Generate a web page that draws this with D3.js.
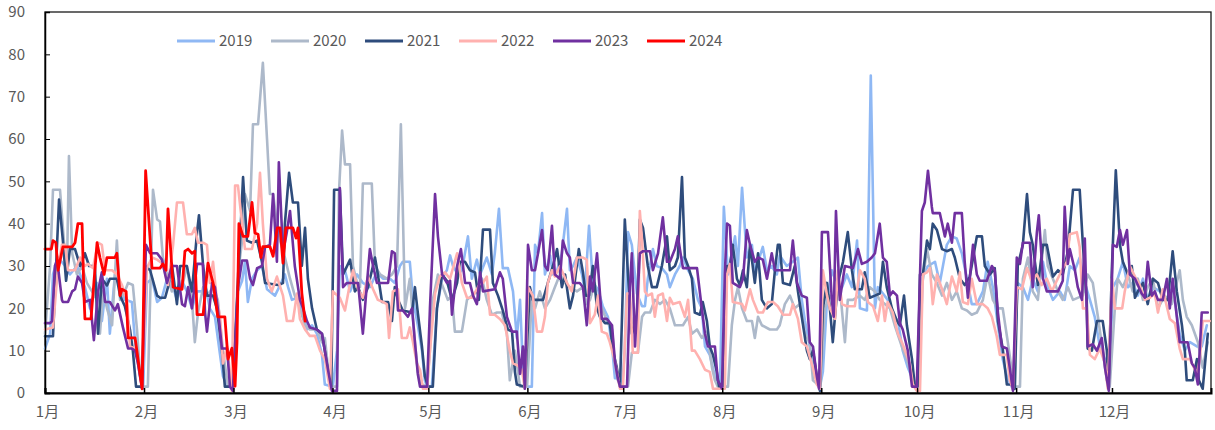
<!DOCTYPE html>
<html><head><meta charset="utf-8">
<script src="https://cdn.jsdelivr.net/npm/d3@7"></script>
<style>
html,body{margin:0;padding:0;background:#fff;}
svg{display:block;font-family:"Noto Sans CJK SC","Noto Sans",sans-serif;}
</style></head>
<body>
<svg id="chart" width="1215" height="430"></svg>
<script>
// ---- data (x = day of year, 0 = 1 Jan) ----
const monthLabels = ["1月","2月","3月","4月","5月","6月","7月","8月","9月","10月","11月","12月"];
const monthStartDays = [0,31,59,90,120,151,181,212,243,273,304,334];
const yTicks = [0,10,20,30,40,50,60,70,80,90];
const years = ["2019","2020","2021","2022","2023","2024"];

const s2019 = [[0,10.5],[1.6,14],[2.5,28],[4.1,32],[6.3,30],[7.8,28],[10,30],[12.5,25],[14.1,20],[16.3,26],[17.8,17],[19.4,27],[20.3,14],[21.9,28],[23.5,25],[25,22],[27.2,21.5],[28.2,12],[29.7,4],[30.7,1],[31.9,26],[33.5,27],[35.1,21.5],[36.6,22.5],[38.2,27],[39.7,26],[41.3,22],[42.9,26.5],[44.4,24],[46,20],[47.6,24],[49.5,24],[50.1,25.5],[51.6,20],[53.2,18],[54.8,9],[55.7,4],[57,1.5],[58.8,1.5],[60.4,24],[61.7,26.5],[62.6,31],[63.5,21.5],[64.8,27],[66.4,29],[67.9,30],[69.5,24.5],[72,23],[73.6,25.5],[75.1,28],[76.1,25],[77.3,22],[78.9,22.5],[80.4,20],[82,15],[83.6,16],[85.1,14],[86.7,9],[87.6,2],[90.1,1.5],[91.4,10],[92.3,30],[93.9,29],[95.5,24],[97.7,28],[99.5,26],[101.7,25],[103.9,28.5],[105.8,27],[108,27],[109.5,26],[111.1,30],[112,31],[114.2,31],[115.2,22],[116.7,16],[118,10],[118.9,3],[119.6,1.5],[121.1,1.5],[122.7,20],[124.3,27],[125.8,29],[126.8,32.5],[127.7,30],[129.3,28],[130.5,29],[132.4,37],[133.6,27],[135.2,31.5],[136.2,28],[138.3,32],[139.9,28],[140.8,33],[142.1,43.5],[143.3,29.5],[144.9,29.5],[146.5,24],[147.7,13],[148.7,22],[149.6,6],[150.9,1.5],[152.4,1.5],[153.4,35],[154.3,33],[155.6,42.5],[156.5,28],[158.1,32.5],[159,28],[160.3,29],[161.8,33],[163.4,43.5],[164.3,29],[165.3,30],[166.5,32],[168.1,28],[169,24],[170.3,39.5],[171.5,26],[173.1,24.5],[174.6,20.5],[176.2,18],[177.5,11],[178.4,3.5],[179.3,3.5],[180.6,1.5],[181.5,10],[182.5,38],[183.7,35],[185.3,23.5],[186.9,20.5],[187.8,20.5],[188.7,27],[190.3,34],[191.5,30],[193.1,29.5],[194.7,28],[195.6,25],[197.2,28],[198.7,30],[199.7,32],[201.3,29],[202.8,27],[204.4,22],[205.6,20],[206.6,11],[208.1,9],[209.7,4],[211.3,1.5],[212.5,44],[213.8,28],[215,33],[216,37],[216.9,30],[218.2,48.5],[219.7,32],[221.3,35],[222.2,28],[223.2,31],[224.7,34.5],[226,29],[227.5,30],[229.1,28],[230,32.5],[232.2,30],[234.1,31],[235.7,32],[236.9,22],[237.9,17],[239.4,11],[240.4,7],[241.6,3],[242.6,1.5],[243.5,5],[244.8,22],[246.3,29],[247.3,27],[249.5,25],[251,28],[252.6,25],[254.2,36],[255.1,20],[257.3,19.5],[258.5,75],[259.8,20],[260.7,25],[262.3,23.5],[263.8,22],[265.4,18.5],[267,17],[268.5,10],[270.1,6],[271.7,3],[272.9,1.5],[273.9,10],[274.8,28],[276.4,30],[278.6,31],[280.1,26],[282.3,35],[283.9,37],[285.4,36.5],[287,33],[288.6,27],[290.1,21],[291.7,21],[293.6,24],[295.1,31],[296.7,25],[298.3,16],[299.8,8],[301.4,3],[303,1],[304.5,26],[306.1,25],[307.7,22],[309.2,27],[310.8,24],[312.4,31],[313.9,25],[315.5,22],[317.7,24],[319.2,22],[320.8,30],[322.4,29],[323.9,32],[325.5,26],[327.1,22],[328.6,18],[330.2,11],[331.8,8],[333,1],[334.3,25],[335.8,27],[337.4,31],[339,25],[340.5,26],[342.1,23],[343.7,27],[345.2,22],[346.8,25],[349,24],[351.2,22],[353,25],[355.2,14],[356.8,10],[358.4,12],[360.6,11],[362.1,11],[363.7,16]];

const s2020 = [[0,14],[1.6,30],[2.5,48],[4.7,48],[5.3,42],[6.3,32],[6.9,30],[7.5,56],[8.5,33],[10,28],[11.6,30],[13.1,26],[14.7,24],[16.3,22],[17.2,14],[18.2,24],[19.4,20],[21,16],[22.5,36],[23.5,22],[25,24],[26,26],[27.5,25.5],[28.8,15],[29.7,5],[30.7,1.5],[32.2,1.5],[33.8,48],[35.1,41],[36,40.5],[36.9,32],[38.2,28],[39.7,24],[41.3,25],[42.9,25],[44.4,30],[46,22],[46.9,12],[47.9,19],[49.5,25],[50.7,23],[52.6,25],[54.1,22],[55.7,10],[57.3,1.5],[58.8,1.5],[60.4,28],[61.7,36],[62.6,47],[64.2,43],[65.1,63.5],[66.7,63.5],[68.2,78],[69.5,60],[70.4,47],[71.4,47],[72.6,40],[73.6,36],[75.1,32],[76.7,27],[78.2,23],[79.8,20],[81.4,16],[82.9,15],[85.1,15],[86.7,12],[87.6,13],[88.6,6],[89.8,1.5],[91.4,1.5],[92,47],[93,62],[93.9,54],[95.5,54],[96.4,30],[97.7,26],[98.6,25],[99.5,49.5],[102.3,49.5],[103.3,30],[104.9,28],[107,27],[108.6,28],[110.2,30],[111.4,63.5],[112.7,20],[114.2,27],[115.8,12],[116.7,5],[118,2],[119.6,1.5],[120.5,10],[121.4,22],[123,28],[124.6,25],[126.1,22],[127.4,23],[128.3,14.5],[130.5,14.5],[132.1,22],[133.6,23],[135.2,24],[136.8,27],[138.3,22],[139.9,18.5],[141.5,19],[143,19],[144.6,14],[145.5,3],[147.1,10],[148.7,1.5],[150.9,1.5],[152.4,22],[153.4,20],[154.9,24],[156.5,20],[158.1,22],[159.6,25],[161.2,28],[162.8,26],[164.3,25],[166.5,24],[168.4,25],[169.6,21],[170.6,22],[172.1,26],[173.1,20],[174.3,20],[175.9,17],[177.5,15],[178.4,7],[179.3,3],[180.6,1.5],[182.5,1.5],[183.7,9.5],[185.6,9.5],[186.9,18],[187.8,19],[189.4,19],[190.9,22],[192.5,21],[194.1,22],[195.6,20],[197.2,16],[199.7,16],[201.3,18],[202.5,14],[204.1,15],[205.6,13],[207.2,14.5],[208.8,6],[209.7,3],[210.6,1.5],[213.8,1.5],[215,16],[216,22],[216.9,25],[218.2,20],[219.7,17],[221.3,17],[222.2,13],[223.2,18],[224.4,16],[226.9,15],[229.1,15],[230,16],[231.6,21],[233.2,23],[234.7,20],[236.3,21],[237.9,14],[239.4,12],[240.4,3],[242.6,1.5],[244.1,20],[245.7,23],[247.3,21],[248.8,25],[250.4,12],[251.3,22],[252.9,22],[255.1,23],[256.6,22],[258.2,25],[259.8,24],[261.3,22],[262.9,21],[264.5,20],[266,16],[268.2,11],[269.8,8],[271.4,4],[272.9,1.5],[274.5,25],[276.1,34],[277.6,28],[279.2,26],[280.8,23],[282.3,26],[283.9,22],[285.4,24],[287,20],[288.6,19.5],[290.1,18.5],[291.7,19],[293.6,22],[295.1,28],[296.7,22],[298.3,20],[299.8,20],[301.4,12],[302.7,5],[303.6,1.5],[305.2,1.5],[306.1,27],[307.7,32],[309.2,24],[310.8,22],[313,38.5],[313.9,30],[315.5,27],[317.1,24],[318.6,22],[320.2,25],[321.8,22],[324.9,23],[326.4,28],[328,26],[329.6,18],[331.1,10],[332.4,3],[333.3,1.5],[334.9,20],[335.8,27],[337.4,25],[339,28],[340.5,24],[342.1,27],[343.7,22],[345.2,25],[346.8,27],[348.4,20],[350.5,23],[352.7,21],[355.2,29],[356.2,22],[357.4,18],[359,16],[360.9,12],[362.4,6],[364,12]];

const s2021 = [[0,13.4],[2.5,13.4],[4.4,45.7],[5.6,36],[6.6,26.5],[7.8,34],[9.4,34],[11,30],[12.5,33],[13.8,30],[15.6,30],[16.6,14],[17.8,27],[19.4,25.4],[20.3,27],[22.5,27],[23.5,23],[25,20.5],[26.6,15],[27.5,10],[28.5,1.5],[30.4,1.5],[31.3,30],[32.9,29],[35.1,23],[36,22.5],[37.6,22.5],[38.5,25],[39.7,30.5],[41.3,21],[42.3,30],[44.4,30],[46,24],[47.6,38],[48.2,42],[49.5,30],[50.7,23],[52.6,23],[53.8,20],[55.4,10],[56.3,1.5],[58.8,1.5],[61,35],[62,51],[63.2,36],[64.8,35.5],[66.4,36],[67.9,31],[68.9,26],[72.9,25.5],[74.5,26],[75.1,40],[76.4,52],[77.6,45],[79.2,45],[80.4,30],[81.4,39],[82.3,27],[83.6,20],[85.1,15],[86.7,14],[87.6,10],[88.6,5],[89.6,1.5],[90.5,48],[92.3,48],[93.3,28],[95.5,31.5],[97,24],[98,25],[99.5,22],[101.1,25],[103.3,32],[104.2,28],[105.5,21.5],[107.4,21.5],[108.6,17],[109.5,25],[110.5,22],[112,19.5],[114.9,19],[115.8,25],[116.7,19],[118,11],[118.9,4],[119.9,1.5],[121.4,1.5],[122.7,20],[124.3,28],[125.8,26.5],[127.4,22],[129,26],[129.9,31],[131.5,31],[133,29],[134.6,28.5],[135.8,22],[137.1,38.6],[139.3,38.6],[140.2,26],[141.8,23],[143.3,19.5],[144.9,15],[146.2,14.5],[147.1,5],[147.7,2],[150.2,1.5],[151.8,25],[152.7,22],[155.9,22],[157.4,26],[159,30],[160.3,34],[161.8,25],[162.8,28],[164.3,20],[165.3,23],[167.1,34],[168.4,28.5],[169.3,23],[170.3,23],[171.5,30],[172.8,20],[173.7,18],[175.3,16.5],[176.8,16.5],[177.8,10],[179,6],[180,1.5],[181.5,41],[182.5,28],[183.7,14],[185.3,17.5],[186.2,41],[187.2,39],[188.7,30],[190,25],[191.5,25],[193.1,30],[194.7,37],[195.6,29],[197.2,30],[198.1,32],[199.4,51],[200.3,32],[201.3,30],[202.5,27],[203.4,19],[205,18.5],[205.9,21.5],[207.2,17],[208.1,11],[209.1,9],[210.3,5],[211,1.5],[212.2,1.5],[213.5,30],[214.4,30],[215.3,35],[216.6,27],[217.5,25.5],[218.5,29],[219.7,25],[220.7,35],[222.2,26],[223.2,33],[224.4,22],[226,20],[227.5,21],[228.5,29],[229.4,35],[230,35],[231,26],[233.2,25.5],[234.7,30],[235.7,24],[236.9,18],[238.5,10],[239.4,8],[240.4,10],[241.6,4],[242.6,0.5],[243.5,20],[244.8,26],[245.7,20],[246.6,12],[248.2,26],[249.8,31],[251.3,38],[252.6,29],[253.5,24.5],[255.7,24.5],[256.6,28.5],[258.2,22.5],[259.8,23],[261.3,23.5],[262.3,31],[263.5,25],[265.1,20],[266.7,17],[267.6,16],[268.9,23],[269.8,16],[271.4,8],[272.3,1.5],[273.2,1.5],[273.9,28],[274.8,28],[276.1,36],[277,34],[277.9,40],[279.2,38.5],[280.8,34],[282.3,33.5],[283.9,34],[284.8,32],[286.4,27],[287.9,25.5],[289.5,27.5],[291.7,37],[293.3,37],[294.2,30],[295.8,28],[297.3,29.5],[298.3,17],[299.8,10.5],[301.1,2],[302.7,2],[303.6,1],[304.5,30],[306.1,35],[307.4,47],[308.3,38],[309.2,35],[310.8,25.5],[312.4,35],[313.6,35],[314.6,31],[315.5,27.5],[317.1,29],[318.6,28],[320.2,33.5],[321.8,48],[323.9,48],[324.9,35],[326.1,22],[326.4,10.5],[327.7,10],[329.3,17],[331.1,17],[332.4,10],[332.9,1],[334,30],[335.2,52.6],[336.5,35],[337.4,31],[339,28],[340.2,30],[341.2,22.5],[342.1,24],[343.7,26],[345.2,21],[346.8,27],[348.4,26],[349.9,22],[351.5,22],[353,33.5],[354.3,24],[355.9,16],[356.8,10],[357.4,3],[359.3,3],[360.6,8],[361.2,3],[362.4,1],[364,14]];

const s2022 = [[0,15],[2.5,15.5],[4.1,30],[5.3,35],[6.3,35],[7.2,29],[9.4,29],[11,32],[12.5,30],[13.5,30.5],[15,29.5],[16.6,35.5],[17.8,35],[18.8,29],[21,29],[22.5,28],[24.1,25.5],[25.7,22],[26.6,11],[28.2,10.5],[29.1,7],[30.4,1.5],[31.9,29.5],[33.5,32],[35.1,31.5],[36.9,30.5],[38.5,25.5],[40.1,35],[41.3,45],[43.2,45],[44.4,37.5],[46,37.5],[46.9,39],[47.9,35.5],[49.5,35.5],[50.7,35],[51.6,26],[52.6,31],[53.8,22],[54.8,18],[55.7,7],[57,11],[58.5,0.5],[59.5,49],[60.4,49],[61.7,40],[62.6,34],[64.8,34],[66.4,40],[67.3,52],[68.2,40],[69.5,27],[71,24],[72.6,27.5],[74.5,23],[75.7,17],[77.6,17],[78.9,23.5],[79.8,17.5],[81.4,15],[82.9,13.5],[84.5,13.5],[86.1,10],[87.6,8],[89.2,1],[90.1,24],[92.3,22.5],[93.9,19.5],[95.5,26],[96.4,29],[98,24.5],[99.5,22.5],[101.1,27.5],[102.7,24.5],[104.2,22],[105.8,21.5],[107,21],[107.7,13],[108.9,24],[110.5,24.5],[111.7,13],[113.3,13],[114.2,15.5],[115.2,12],[116.4,7],[117.4,5.5],[118.3,1],[119.6,1],[120.5,10],[122.1,23.5],[123.6,27.5],[125.2,28.5],[126.8,27],[129,33],[130.5,26],[132.1,22.5],[133.6,22.5],[135.2,24.5],[136.2,26],[137.1,26],[138.3,27.5],[139.3,18.5],[140.8,18.5],[142.4,17.5],[144,16],[145.5,10],[146.5,7],[148,6.5],[149.3,5.5],[150.2,1],[151.2,25],[152.7,23],[154,14.5],[155.6,14.5],[156.5,18],[157.4,26],[158.7,29],[159.6,27.5],[161.2,30],[163.4,26],[164.9,24],[166.5,32],[168.4,32],[169.6,31.5],[170.6,16.5],[172.1,18.5],[173.1,23],[174.3,14.5],[175.9,14],[176.8,12],[178.4,7.5],[180,1],[180.9,1],[182.2,23.5],[183.1,23.5],[184,9.5],[185.6,9.5],[186.2,43],[186.9,36],[187.8,24],[188.7,23],[190,23.5],[190.9,18],[191.9,23],[193.4,23.5],[194.7,17],[195.6,22.5],[196.6,21],[198.7,21.5],[200.3,18],[201.3,22],[202.5,10],[203.4,10],[205,8],[206.6,5.5],[208.1,5],[209.1,1],[212.8,1],[213.5,28],[214.4,30.5],[215.3,21.5],[218.2,21],[219.1,19.5],[220.7,24.5],[221.6,22],[223.2,19],[224.7,19],[226.3,21.5],[227.9,21.5],[229.4,20.5],[231,18.5],[233.2,18.5],[234.1,21],[235.7,17.5],[236.9,12],[238.5,11],[239.4,8.5],[240.4,6],[241.6,2],[242.6,1],[243.5,29],[244.8,23],[245.7,20],[247.3,17.5],[248.2,29],[249.5,21],[251,20.5],[253.5,20.5],[255.1,29],[256.6,27],[257.6,21.5],[259.2,20.5],[260.7,17],[262,23],[262.9,17],[263.8,21.5],[265.4,19],[267,14],[268.5,11.5],[270.7,7],[271.7,2],[272.9,0.5],[273.9,0.5],[274.8,28],[276.1,28.5],[277,29.5],[277.9,21],[279.2,28],[280.8,24.5],[282.3,21],[283.9,27.5],[285.4,24],[286.4,28.5],[287.3,21.5],[288.9,21],[290.1,27],[291.7,21],[293.6,21],[295.1,20],[296.4,18],[297.9,13.5],[298.9,9],[301.1,9],[302,3],[303,1],[304.2,25],[305.8,24.5],[307.4,29.5],[308.9,26.5],[310.5,28],[312,25.5],[313.6,27],[315.2,24],[316.7,26.5],[318.3,29],[319.9,31],[320.8,37.5],[323,38],[323.9,34.5],[324.9,20],[326.1,20],[327.1,9],[328.6,8],[330.2,10.5],[331.8,7],[332.7,1],[334,27],[334.9,20],[337.2,20],[338,24],[339.6,30],[341.2,27.5],[342.7,25.5],[344.3,22],[345.9,22.5],[347.4,23.5],[348.4,19],[349.9,24.5],[352.1,17.5],[353.7,16.5],[355.2,10.5],[356.2,8],[358.4,8],[360.6,4.5],[361.5,8],[362.4,17],[364.6,17]];

const s2023 = [[0,16.5],[1.6,16.5],[2.2,17],[3.1,30],[3.8,31.5],[5.3,22],[5.6,21.5],[7.2,21.5],[8.5,24],[9.4,24.5],[10.3,27.5],[11.6,26],[12.5,21.5],[14.1,22],[15.3,12.5],[16.6,24],[17.8,28.5],[18.8,21.5],[20.3,21.5],[21.9,19.5],[22.8,21],[24.4,15.5],[26,10.5],[27.2,10.5],[28.2,10],[29.1,7],[30.4,1],[31.6,35],[32.9,33],[35.1,33],[36.6,31.5],[38.2,26],[39.7,30],[41.3,30],[42.9,21],[43.8,20.5],[44.8,25],[46,20],[47.6,30.5],[49.4,30.5],[50.1,19],[50.7,14.5],[52.3,26],[53.2,25],[54.1,20],[55.4,10.5],[57,10.5],[57.9,1.5],[58.8,0.5],[60.4,25],[61.7,31.3],[63.2,31.3],[64.2,27],[65.1,25.5],[66.4,29.5],[67.9,30],[68.9,34.5],[70.4,35],[71.4,47],[72.6,31],[73.2,54.5],[74.5,33],[75.7,38],[76.7,43],[78.2,30],[79.8,22],[80.8,20],[82,17],[82.9,15.5],[85.1,15],[86.7,14],[87.6,10],[88.6,5.5],[89.8,0.5],[91.4,0.5],[92.3,48.4],[93.3,25],[94.5,26],[98,26],[99.5,14],[100.8,26],[101.7,34],[102.7,30],[103.9,26],[107.4,26],[108.6,33.5],[109.5,33],[110.5,19.5],[112,19.5],[113.6,18],[114.9,20],[115.8,12],[116.7,4.5],[117.4,1.5],[119.6,1.5],[120.5,20],[122.1,47],[123,37],[124.3,28],[125.8,26],[126.8,26.5],[127.4,18.5],[129,30],[130.2,34],[131.5,26],[133,26],[134,23],[135.2,21],[136.2,28.5],[137.1,24],[140.8,24.5],[142.4,28.5],[143.3,27],[144.6,18],[146.2,14.5],[147.7,14.5],[148.7,4.5],[149.6,11],[150.2,1],[151.2,35],[152.4,29],[153.4,29],[155.6,38.5],[156.5,30],[157.4,29],[158.7,39.5],[159.6,28],[161.2,27],[162.1,36],[163.4,33],[164.3,32],[165.3,26],[167.4,26],[168.4,25],[169.6,16],[170.6,27.5],[171.5,24],[172.8,33],[174.3,17.5],[175.9,17.5],[177.5,16],[178.4,7.5],[179.3,3.5],[180,1.5],[182.2,1.5],[183.1,25],[183.7,33],[184.7,11],[186.2,33],[187.2,33.5],[189.4,33.5],[190.3,29],[191.9,33],[193.4,41.5],[194.7,31],[195.6,31],[197.2,34],[198.1,37],[199.7,29.5],[204.1,29.5],[205.6,20],[206.6,14],[207.5,11],[209.7,11],[210.6,3],[211.9,1],[212.8,28],[213.5,40],[214.4,39.5],[215.3,26],[217.5,25],[218.5,27],[219.7,38.5],[220.7,35],[222.2,31],[223.2,32],[224.7,31.5],[226,27],[227.5,33],[228.5,29],[233.2,29],[234.1,36],[235.4,26],[236.9,23],[238.5,22.5],[239.4,12],[240.4,11],[241.6,4],[242.3,1],[243.2,38],[245.1,38],[246.3,22],[246.9,18],[247.6,43],[248.8,22],[250.4,30],[252.9,29.5],[254.5,34],[255.7,30.5],[257.3,31],[258.8,32],[259.8,33],[261.3,40],[262.3,32],[263.5,31],[264.5,23],[265.4,24],[266.7,23],[267.6,16.5],[268.5,15],[270.1,10],[271.4,1.5],[272.9,1.5],[273.9,27.5],[274.5,43],[275.4,45],[276.4,52.5],[277.6,44],[277.9,42.5],[280.1,42.5],[281.7,37],[282.6,40],[283.9,35.5],[284.8,42.5],[287,42.5],[287.9,31],[288.9,22.5],[290.5,35],[291.7,28],[292.6,26.5],[294.8,26.5],[296.4,30],[297.3,29],[298.3,19],[299.5,11],[301.1,10.5],[302,6],[303,0.5],[304.2,32],[305.2,30.5],[306.1,35.5],[308.3,35.5],[309.2,25],[310.5,38],[311.1,42],[312.4,27],[313.6,24],[317.1,24],[318.6,26.5],[319.2,44],[320.2,30.5],[320.8,34],[322.4,29],[323.3,25],[324.6,22],[325.5,36.5],[326.4,11],[328,11.5],[329.3,10],[330.8,13],[331.8,6],[333,0.5],[334.3,35],[335.5,34.5],[336.5,38.5],[337.4,35],[338.7,38.5],[339.6,28],[341.2,27],[343.3,23.5],[344.3,22.5],[345.2,31],[346.5,23],[347.4,24],[348.4,22],[349.9,22],[351.2,27],[352.1,20],[353,27],[354.3,18],[355.2,12],[357.7,12],[359,7],[359.9,6],[360.9,2],[362.1,19],[364,19]];

const s2024 = [[0,34],[2,34],[2.5,36],[3.4,35.5],[4.1,29],[5.6,34.5],[8.5,34.5],[9.4,35.5],[10.3,40],[11.6,40],[12.2,23],[12.5,17.5],[14.4,17.5],[16.3,35.5],[17.2,32],[18.5,28],[19.4,32],[21.9,32],[22.5,33],[23.5,23],[24.1,24.5],[25.4,24],[26,13],[28.2,13],[30.4,1],[31.5,52.5],[33.5,29.5],[36,29.5],[36.9,30.5],[37.9,29],[38.5,43.5],[40.1,25],[42.9,24.5],[43.8,33.5],[44.8,34],[46,33],[46.9,33.5],[47.6,18.5],[49.5,18.5],[51,30.7],[52.6,26],[54.1,18],[56.3,18],[57.3,8],[58.5,10.6],[59.5,1.6],[60.1,12],[60.7,40],[62,37],[63.5,37],[64.8,45],[65.7,37.8],[66.7,37.5],[67.6,32],[68.2,34.6],[70.4,34.6],[71.4,32.3],[72.7,39],[73.6,39],[74.5,30.7],[75.4,39],[77.6,39],[78.6,36.6],[79.2,39],[80.4,23.6],[81.4,17]];

const seriesData = [s2019, s2020, s2021, s2022, s2023, s2024];
const seriesColors = ["#8FB8F4","#ADB9CA","#2E4C7C","#FFB1AF","#7030A0","#FF0000"];

// ---- drawing ----
const svg = d3.select("#chart");
const W = 1215, H = 430;
const margin = {left:45, right:4, top:12, bottom:37};
const x = d3.scaleLinear().domain([0,365]).range([margin.left, W - margin.right]);
const y = d3.scaleLinear().domain([0,90]).range([H - margin.bottom, margin.top]);

const textColor = "#595959";

// plot border
svg.append("rect")
  .attr("x", x(0)).attr("y", y(90))
  .attr("width", x(365)-x(0)).attr("height", y(0)-y(90))
  .attr("fill","none").attr("stroke","#1a1a1a").attr("stroke-width",1.3);

// lines
const line = d3.line().x(d=>x(d[0])).y(d=>y(d[1])).curve(d3.curveLinear);
const g = svg.append("g");
seriesData.forEach((s,i)=>{
  g.append("path").datum(s)
    .attr("d", line)
    .attr("fill","none")
    .attr("stroke", seriesColors[i])
    .attr("stroke-width", i===5 ? 2.8 : 2.6)
    .attr("stroke-linejoin","round")
    .attr("stroke-linecap","round");
});

// y axis
const yAxis = d3.axisLeft(y).tickValues(yTicks).tickSize(-5).tickPadding(20).tickFormat(d3.format("d"));
const ya = svg.append("g").attr("transform",`translate(${x(0)},0)`).call(yAxis);
ya.select(".domain").attr("stroke","#000").attr("stroke-width",1.5);
ya.selectAll(".tick line").attr("stroke","#000").attr("stroke-width",1);
ya.selectAll("text").attr("fill",textColor).style("font-size","15px")
  .style("font-family",'"Noto Sans CJK SC","Noto Sans",sans-serif');

// x axis
const xAxis = d3.axisBottom(x).tickValues(monthStartDays).tickSize(-5).tickPadding(13)
  .tickFormat((d,i)=>monthLabels[i]);
const xa = svg.append("g").attr("transform",`translate(0,${y(0)})`).call(xAxis);
xa.select(".domain").attr("stroke","#000").attr("stroke-width",2);
xa.selectAll(".tick line").attr("stroke","#000").attr("stroke-width",1.5);
xa.selectAll("text").attr("fill",textColor).style("font-size","15px")
  .attr("dx", 2)
  .style("font-family",'"Noto Sans CJK SC","Noto Sans",sans-serif');

// legend
const legend = svg.append("g");
const legX = d3.scaleLinear().domain([0,1]).range([177, 271]);
years.forEach((yr,i)=>{
  const lx = legX(i);
  legend.append("line").attr("x1",lx).attr("x2",lx+38).attr("y1",41).attr("y2",41)
    .attr("stroke",seriesColors[i]).attr("stroke-width",3);
  legend.append("text").attr("x",lx+42).attr("y",41).attr("dy","0.35em")
    .attr("fill",textColor).style("font-size","15px").text(yr);
});
</script>
</body></html>
